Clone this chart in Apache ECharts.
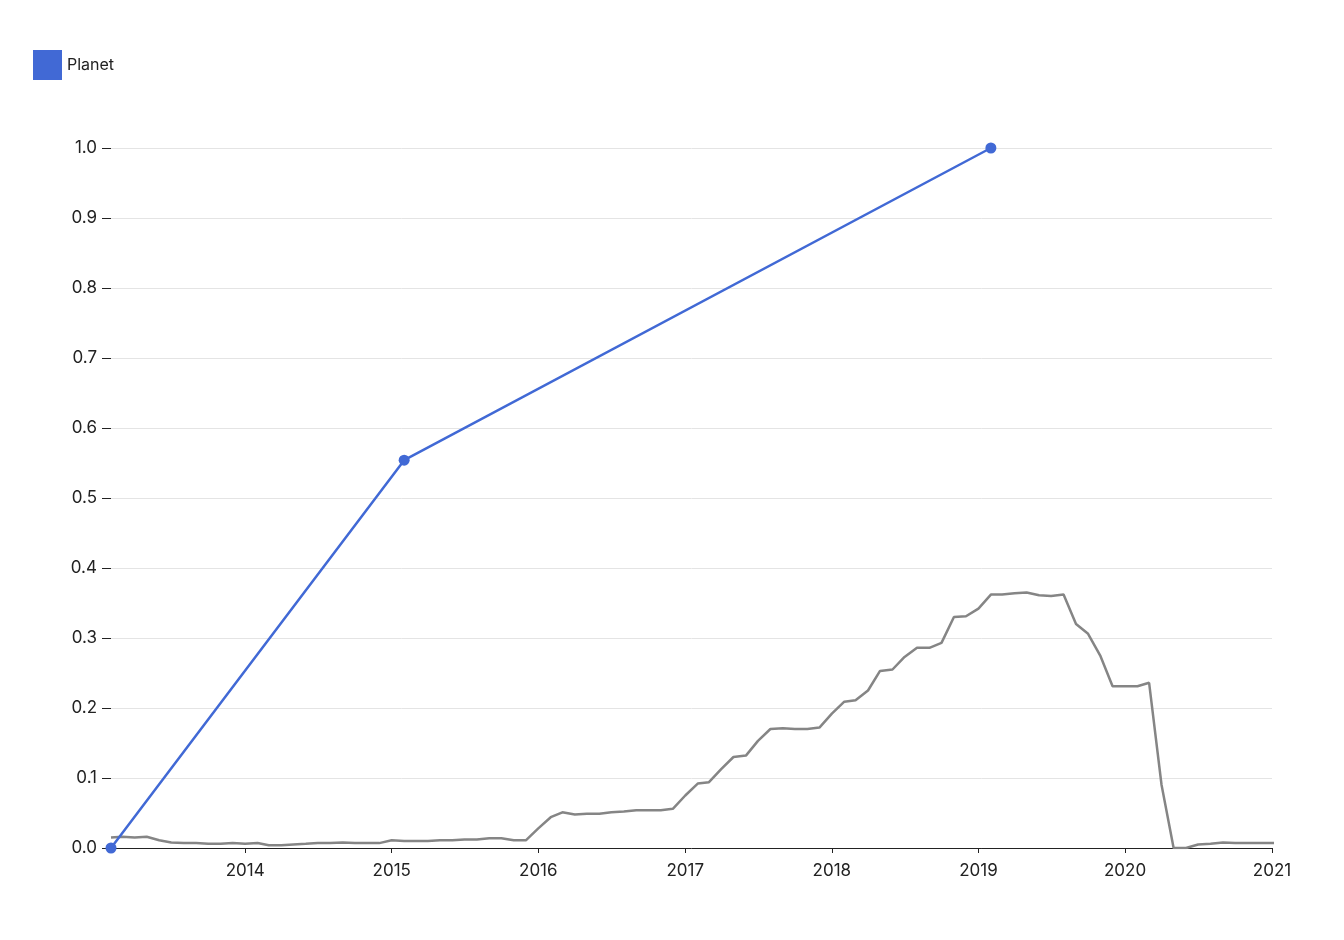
<!DOCTYPE html>
<html><head><meta charset="utf-8">
<script src="https://cdn.jsdelivr.net/npm/echarts@6/dist/echarts.min.js"></script>
<style>html,body{margin:0;background:#fff}#c{width:1344px;height:940px}</style>
</head><body><div id="c"></div>
<script>
const planetDates = ['2013-02-01','2015-02-01','2019-02-01'];
const planetValues = [0, 0.554, 1.0];
const grayStart = [2013, 2]; // monthly from Feb 2013
const grayValues = [
0.015,0.016,0.015,0.016,0.011,0.008,0.007,0.007,0.006,0.006,0.006,
0.007,0.006,0.007,0.004,0.004,0.005,0.006,0.007,0.007,0.008,0.007,0.007,
0.007,0.011,0.010,0.010,0.010,0.011,0.011,0.012,0.012,0.014,0.014,0.011,
0.011,0.028,0.044,0.051,0.048,0.049,0.049,0.051,0.052,0.054,0.054,0.054,
0.056,0.075,0.092,0.094,0.113,0.130,0.132,0.153,0.170,0.171,0.170,0.170,
0.172,0.192,0.209,0.211,0.225,0.253,0.255,0.273,0.286,0.286,0.293,0.330,
0.331,0.342,0.362,0.362,0.364,0.365,0.361,0.360,0.362,0.320,0.306,0.274,
0.231,0.231,0.231,0.236,0.090,0.000,0.000,0.005,0.006,0.008,0.007,0.007,
0.007,0.007,0.007
];
grayValues.splice(10,1);
const grayData = grayValues.map((v,i)=>{
  const m = grayStart[1]-1+i; const y = grayStart[0]+Math.floor(m/12); const mm = m%12+1;
  return [y+'-'+String(mm).padStart(2,'0')+'-01', v];
});
const chart = echarts.init(document.getElementById('c'));
const txt = {color:'#222', fontSize:17, fontFamily:'Inter, "Noto Sans", sans-serif'};
chart.setOption({
  animation:false,
  legend:{left:28, top:45, itemWidth:29, itemHeight:30, icon:'rect', textStyle:{...txt, fontSize:16}, data:['Planet']},
  grid:{left:111, right:72, top:148, bottom:92},
  xAxis:{type:'time', min:'2013-02-01', max:'2021-01-01',
    interval: 365.25*24*3600*1000,
    axisLine:{lineStyle:{color:'#222'}}, axisTick:{show:true,lineStyle:{color:'#222'}},
    axisLabel:{...txt, margin:14, showMaxLabel:true, formatter:v=>{const d=new Date(v);return (d.getMonth()===0||d.getMonth()===11&&d.getDate()>25)?String(d.getMonth()===11?d.getFullYear()+1:d.getFullYear()):'';}},
    splitLine:{show:false}},
  yAxis:{type:'value', min:0, max:1, interval:0.1,
    axisLine:{show:false}, axisTick:{show:true, length:9, lineStyle:{color:'#222'}},
    axisLabel:{...txt, margin:14, formatter:v=>v.toFixed(1)},
    splitLine:{lineStyle:{color:'#e4e4e4'}}},
  series:[
    {name:'Gray', type:'line', data:grayData, symbol:'none', lineStyle:{color:'#858585', width:2.5}, z:1},
    {name:'Planet', type:'line', data:planetDates.map((d,i)=>[d,planetValues[i]]), symbol:'circle', symbolSize:11,
      itemStyle:{color:'#4169d5'}, lineStyle:{color:'#4169d5', width:2.5}, z:2}
  ]
});
</script></body></html>
